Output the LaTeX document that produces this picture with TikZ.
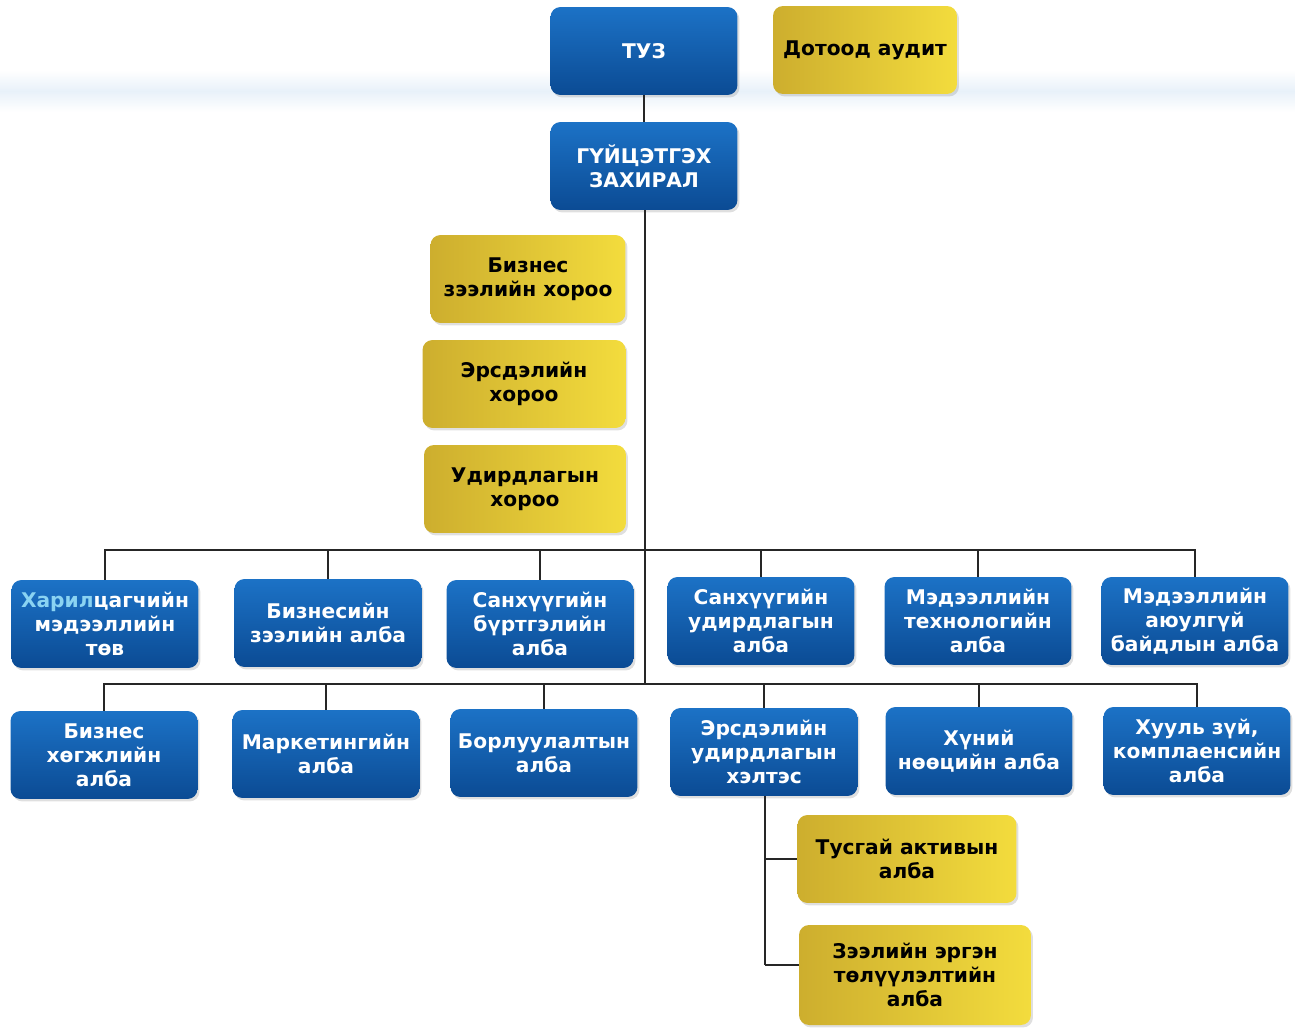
\documentclass[tikz,border=0pt]{standalone}
\usepackage{fontspec}
\setmainfont{DejaVu Sans}
\usepackage{xcolor}
\usepackage{tikz}
\usetikzlibrary{shapes,positioning,shadows}
\definecolor{bluA}{HTML}{1C72C6}
\definecolor{bluB}{HTML}{0B4B94}
\definecolor{gldA}{HTML}{CDAE2E}
\definecolor{gldB}{HTML}{F3DC3D}
\definecolor{lblu}{HTML}{8AD3F2}
\tikzset{box/.style={rectangle,rounded corners=0.2cm,minimum width=3.74cm,minimum height=1.76cm,inner sep=0.05cm,align=center,font=\bfseries\fontsize{11.5}{13.6}\selectfont,drop shadow={opacity=0.25,shadow xshift=0.04cm,shadow yshift=-0.05cm}}}
\tikzset{blu/.style={box,text=white,top color=bluA,bottom color=bluB}}
\tikzset{gld/.style={box,text=black,left color=gldA,right color=gldB}}
\tikzset{ln/.style={draw=black!85,line width=0.8pt}}

\begin{document}
\begin{tikzpicture}[x=0.02cm,y=-0.02cm]
    \useasboundingbox (0,0) rectangle (1295,1034);
    \shade[top color=white,bottom color=white,middle color=bluA!10] (0,70) rectangle (1295,112);

    \node[blu] (a)at (644,51) {ТУЗ};
    \node[gld,minimum width=3.68cm] (b)at (865,50) {Дотоод аудит};
    \node[blu] (c)at (644,166) {ГҮЙЦЭТГЭХ\\ЗАХИРАЛ};
    \node[gld,minimum width=3.9cm] (d)at (528,279) {Бизнес\\зээлийн хороо};
    \node[gld,minimum width=4.06cm] (e)at (524,384) {Эрсдэлийн\\хороо};
    \node[gld,minimum width=4.04cm] (f)at (525,489) {Удирдлагын\\хороо};

    \node[blu] (g)at (105,624) {\textcolor{lblu}{Харил}цагчийн\\мэдээллийн\\төв};
    \node[blu] (h)at (328,623) {Бизнесийн\\зээлийн алба};
    \node[blu] (i)at (540,624) {Санхүүгийн\\бүртгэлийн\\алба};
    \node[blu] (j)at (761,621) {Санхүүгийн\\удирдлагын\\алба};
    \node[blu] (k)at (978,621) {Мэдээллийн\\технологийн\\алба};
    \node[blu] (l)at (1195,621) {Мэдээллийн\\аюулгүй\\байдлын алба};

    \node[blu] (m)at (104,755) {Бизнес\\хөгжлийн\\алба};
    \node[blu] (n)at (326,754) {Маркетингийн\\алба};
    \node[blu] (o)at (544,753) {Борлуулалтын\\алба};
    \node[blu] (p)at (764,752) {Эрсдэлийн\\удирдлагын\\хэлтэс};
    \node[blu] (q)at (979,751) {Хүний\\нөөцийн алба};
    \node[blu] (r)at (1197,751) {Хууль зүй,\\комплаенсийн\\алба};

    \node[gld,minimum width=4.38cm] (s)at (907,859) {Тусгай активын\\алба};
    \node[gld,minimum width=4.64cm,minimum height=2cm] (t)at (915,975) {Зээлийн эргэн\\төлүүлэлтийн\\алба};

    \coordinate (u)at (645,550);
    \coordinate (v)at (645,684);
    \coordinate (w)at (765,965);

    \draw [ln] (a) to []node[]{} (c);
    \draw [ln] (c.south -| v) to []node[]{} (v);
    \draw [ln] (g.north) |- (u) -| (l.north);
    \draw [ln] (h.north) to []node[]{} (h.north |- u);
    \draw [ln] (i.north) to []node[]{} (i.north |- u);
    \draw [ln] (j.north) to []node[]{} (j.north |- u);
    \draw [ln] (k.north) to []node[]{} (k.north |- u);
    \draw [ln] (m.north) |- (v) -| (r.north);
    \draw [ln] (n.north) to []node[]{} (n.north |- v);
    \draw [ln] (o.north) to []node[]{} (o.north |- v);
    \draw [ln] (p.north) to []node[]{} (p.north |- v);
    \draw [ln] (q.north) to []node[]{} (q.north |- v);
    \draw [ln] (p.south -| w) to []node[]{} (w);
    \draw [ln] (s.west -| w) to []node[]{} (s.west);
    \draw [ln] (w) to []node[]{} (t.west |- w);
\end{tikzpicture}
\end{document}
